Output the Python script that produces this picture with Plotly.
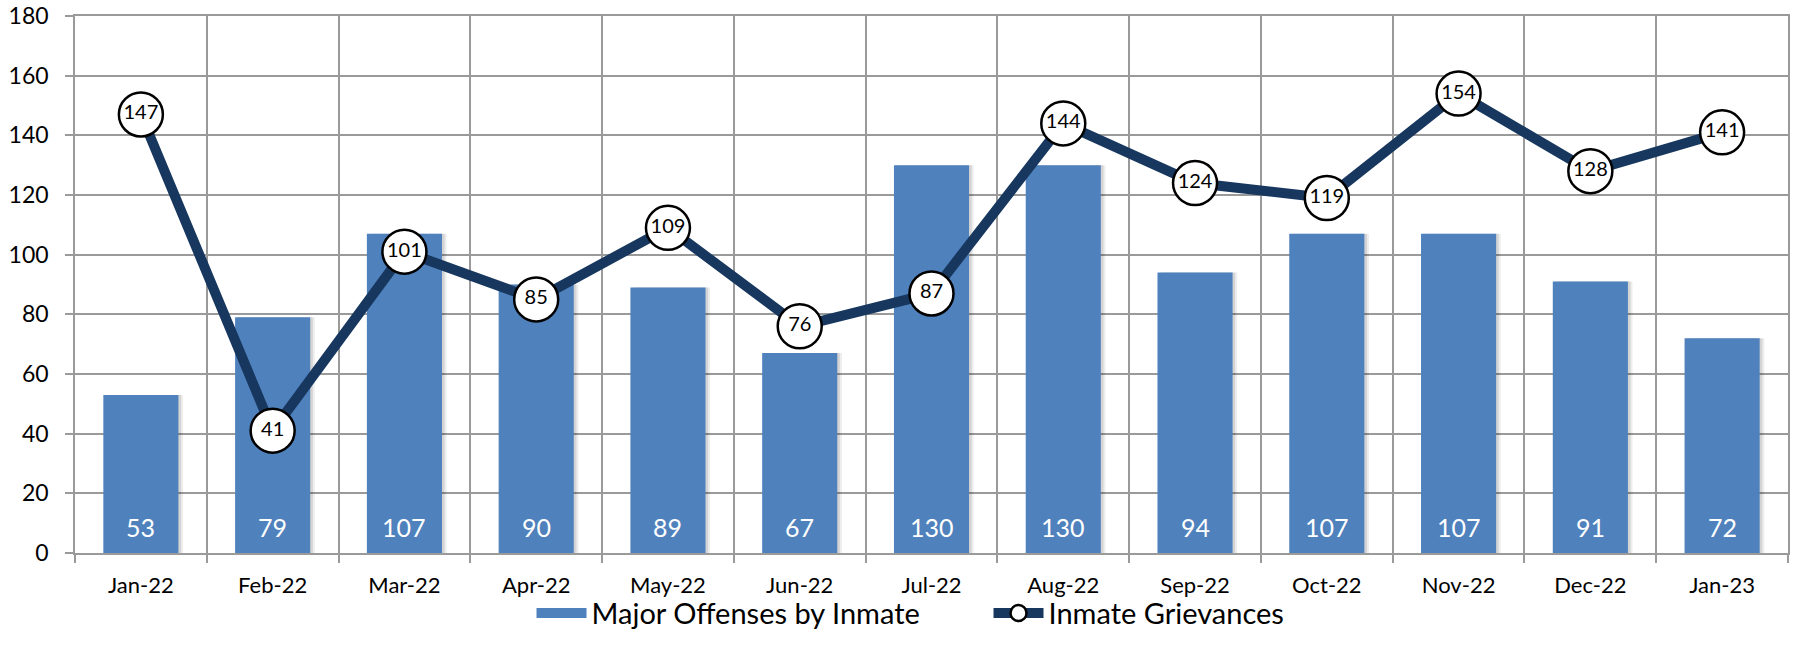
import plotly.graph_objects as go

months = ["Jan-22", "Feb-22", "Mar-22", "Apr-22", "May-22", "Jun-22", "Jul-22",
          "Aug-22", "Sep-22", "Oct-22", "Nov-22", "Dec-22", "Jan-23"]
major_offenses = [53, 79, 107, 90, 89, 67, 130, 130, 94, 107, 107, 91, 72]
grievances = [147, 41, 101, 85, 109, 76, 87, 144, 124, 119, 154, 128, 141]
y_ticks = [0, 20, 40, 60, 80, 100, 120, 140, 160, 180]

FONT = "Lato, 'Open Sans', sans-serif"
GRID = "#9a9a9a"
BAR_COLOR = "#4F81BD"
LINE_COLOR = "#17375E"
BAR_W = 0.57

fig = go.Figure()

# soft drop shadow behind bars
for shift, alpha in [(0.035, 0.07), (0.02, 0.10)]:
    fig.add_trace(go.Bar(
        x=months, y=major_offenses, width=BAR_W, offset=-BAR_W / 2 + shift,
        marker=dict(color=f"rgba(0,0,0,{alpha})", line=dict(width=0)),
        showlegend=False, hoverinfo="skip",
    ))

fig.add_trace(go.Bar(
    x=months, y=major_offenses, name="Major Offenses by Inmate",
    width=BAR_W, offset=-BAR_W / 2,
    marker=dict(color=BAR_COLOR, line=dict(width=0)),
    showlegend=False,
))

# legend entry for bars: a wide rectangle swatch
fig.add_trace(go.Scatter(
    x=[None], y=[None], mode="lines", name="Major Offenses by Inmate",
    line=dict(color=BAR_COLOR, width=19),
))

fig.add_trace(go.Scatter(
    x=months, y=grievances, name="Inmate Grievances",
    mode="lines+markers+text",
    line=dict(color=LINE_COLOR, width=10),
    marker=dict(size=44, color="white", line=dict(color="black", width=2.5)),
    text=[str(v) for v in grievances], textposition="middle center",
    textfont=dict(family=FONT, size=20, color="black"),
    cliponaxis=False,
))

# value labels inside the bars, anchored at the bar base
annotations = [
    dict(x=m, y=0, xref="x", yref="y", text=str(v), showarrow=False,
         yanchor="bottom", yshift=9,
         font=dict(family=FONT, size=25, color="white"))
    for m, v in zip(months, major_offenses)
]

fig.update_layout(
    width=1794, height=663,
    margin=dict(l=75, r=6, t=16, b=110, autoexpand=False),
    barmode="overlay",
    plot_bgcolor="white", paper_bgcolor="white",
    font=dict(family=FONT, color="black"),
    annotations=annotations,
    legend=dict(orientation="h", x=0.2665, xanchor="left", y=-0.112, yanchor="middle",
                font=dict(family=FONT, size=29), itemwidth=50, entrywidth=392,
                bgcolor="rgba(0,0,0,0)", traceorder="normal"),
)

fig.update_xaxes(
    type="category", tickson="boundaries", range=[-0.5, 12.5],
    showgrid=True, gridcolor=GRID, gridwidth=1.5,
    showline=True, linecolor=GRID, linewidth=1.5, mirror=True,
    ticks="outside", ticklen=8, tickcolor=GRID, tickwidth=1.5,
    tickfont=dict(family=FONT, size=22), ticklabelstandoff=12,
    automargin=False,
)
fig.update_yaxes(
    range=[0, 180], tickvals=y_ticks,
    showgrid=True, gridcolor=GRID, gridwidth=1.5,
    showline=True, linecolor=GRID, linewidth=1.5, mirror=True,
    ticks="outside", ticklen=8, tickcolor=GRID, tickwidth=1.5,
    tickfont=dict(family=FONT, size=23), ticklabelstandoff=12,
    ticklabeloverflow="allow", automargin=False,
    zeroline=False,
)

fig.write_html("out.html", config={"displayModeBar": False},
               post_script="document.body.style.margin='0';")
